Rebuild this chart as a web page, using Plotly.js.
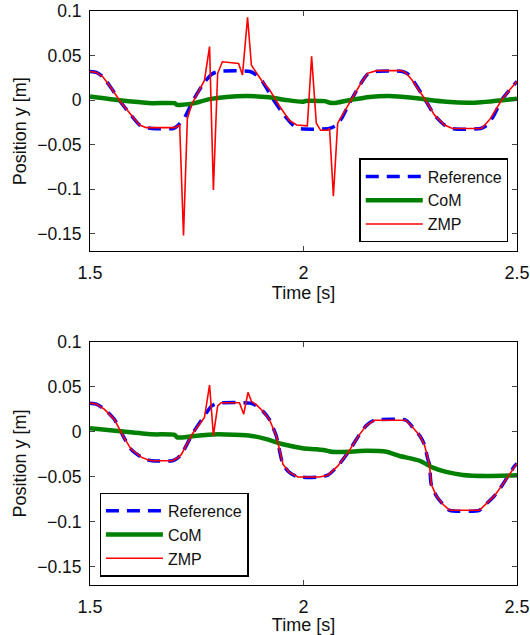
<!DOCTYPE html>
<html>
<head>
<meta charset="utf-8">
<script src="https://cdn.plot.ly/plotly-3.0.1.min.js"></script>
<style>
html,body{margin:0;padding:0;background:#fff;}
#chart{width:530px;height:635px;}
</style>
</head>
<body>
<div id="chart"></div>
<script>
// ---------- Top panel ----------
const refTopT = [1.50,1.515,1.53,1.546,1.573,1.596,1.616,1.632,1.645,1.695,1.705,1.72,1.742,1.768,1.785,1.80,1.875,1.89,1.905,1.93,1.955,1.975,1.99,2.06,2.075,2.09,2.108,2.131,2.15,2.168,2.232,2.245,2.258,2.283,2.307,2.33,2.348,2.415,2.43,2.445,2.464,2.482,2.50];
const refTopY = [0.032,0.031,0.026,0.016,-0.003,-0.017,-0.028,-0.031,-0.032,-0.032,-0.029,-0.021,0.000,0.020,0.029,0.032,0.032,0.028,0.020,0.000,-0.017,-0.028,-0.032,-0.032,-0.029,-0.020,-0.003,0.016,0.029,0.032,0.032,0.029,0.021,0.002,-0.017,-0.028,-0.032,-0.032,-0.028,-0.018,0.000,0.011,0.021];

const comTopT = [1.50,1.564,1.644,1.698,1.704,1.710,1.740,1.780,1.820,1.869,1.920,1.960,1.998,2.005,2.038,2.05,2.062,2.077,2.115,2.155,2.201,2.255,2.335,2.396,2.50];
const comTopY = [0.004,0.000,-0.0035,-0.0035,-0.0055,-0.0055,-0.004,0.001,0.0035,0.0045,0.003,0.000,-0.002,-0.001,-0.001,-0.0012,-0.003,-0.003,0.0005,0.0035,0.0045,0.0025,-0.002,-0.003,0.0015];

const zmpTopT = [1.50,1.515,1.53,1.546,1.573,1.596,1.616,1.632,1.645,1.698,1.710,1.719,1.728,1.738,1.768,1.780,1.789,1.799,1.810,1.848,1.857,1.869,1.878,1.902,1.920,1.944,1.967,1.984,2.009,2.019,2.030,2.040,2.056,2.061,2.070,2.080,2.108,2.131,2.150,2.171,2.230,2.241,2.255,2.283,2.307,2.330,2.349,2.417,2.436,2.464,2.482,2.50];
const zmpTopY = [0.032,0.031,0.026,0.016,-0.003,-0.017,-0.028,-0.031,-0.031,-0.031,-0.028,-0.152,-0.021,-0.005,0.022,0.060,-0.101,0.030,0.043,0.041,0.028,0.093,0.039,0.022,0.012,-0.007,-0.023,-0.028,-0.029,0.049,-0.026,-0.034,-0.034,-0.032,-0.108,-0.026,-0.003,0.016,0.030,0.033,0.033,0.030,0.022,0.002,-0.017,-0.028,-0.032,-0.032,-0.022,0.000,0.011,0.021];

// ---------- Bottom panel ----------
const refBotT = [1.50,1.515,1.534,1.557,1.577,1.596,1.620,1.635,1.645,1.693,1.705,1.714,1.740,1.768,1.785,1.80,1.875,1.89,1.905,1.920,1.936,1.940,1.952,1.967,1.987,2.037,2.057,2.080,2.104,2.131,2.147,2.166,2.240,2.256,2.272,2.283,2.291,2.295,2.299,2.311,2.326,2.342,2.412,2.428,2.447,2.467,2.494,2.50];
const refBotY = [0.032,0.031,0.025,0.014,-0.004,-0.019,-0.028,-0.031,-0.032,-0.032,-0.029,-0.025,-0.002,0.018,0.029,0.032,0.032,0.029,0.023,0.014,-0.004,-0.012,-0.036,-0.045,-0.050,-0.050,-0.048,-0.038,-0.023,-0.003,0.007,0.013,0.013,0.005,-0.004,-0.014,-0.030,-0.036,-0.058,-0.071,-0.080,-0.087,-0.087,-0.080,-0.071,-0.058,-0.038,-0.035];

const comBotT = [1.50,1.565,1.643,1.698,1.704,1.710,1.745,1.799,1.878,1.913,1.952,1.998,2.030,2.057,2.065,2.108,2.147,2.194,2.225,2.272,2.303,2.334,2.373,2.428,2.50];
const comBotY = [0.004,0.001,-0.0026,-0.0033,-0.0060,-0.0063,-0.0044,-0.0026,-0.0044,-0.008,-0.0137,-0.018,-0.0193,-0.021,-0.022,-0.0219,-0.021,-0.022,-0.0267,-0.032,-0.0397,-0.0444,-0.0478,-0.0489,-0.0482];

const zmpBotT = [1.50,1.515,1.534,1.557,1.577,1.596,1.620,1.635,1.645,1.693,1.705,1.714,1.740,1.768,1.780,1.789,1.799,1.807,1.850,1.860,1.870,1.878,1.890,1.905,1.920,1.936,1.940,1.952,1.967,1.987,2.037,2.057,2.080,2.104,2.131,2.147,2.166,2.240,2.256,2.272,2.283,2.291,2.295,2.299,2.311,2.326,2.342,2.412,2.428,2.447,2.467,2.494,2.50];
const zmpBotY = [0.032,0.031,0.025,0.014,-0.004,-0.019,-0.028,-0.031,-0.032,-0.032,-0.029,-0.025,-0.002,0.016,0.052,-0.004,0.029,0.0325,0.0325,0.0197,0.044,0.034,0.030,0.023,0.014,-0.004,-0.012,-0.036,-0.045,-0.050,-0.050,-0.048,-0.038,-0.023,-0.003,0.007,0.013,0.013,0.005,-0.004,-0.014,-0.030,-0.036,-0.058,-0.071,-0.080,-0.087,-0.087,-0.080,-0.071,-0.058,-0.038,-0.035];

const seriesNames = ['Reference','CoM','ZMP'];
const xTicks = [1.5, 2, 2.5];
const xTickText = ['1.5','2','2.5'];
const yTicks = [0.1, 0.05, 0, -0.05, -0.1, -0.15];
const yTickText = ['0.1','0.05','0','\u22120.05','\u22120.1','\u22120.15'];

const FONT = 'Liberation Sans, Arial, Helvetica, sans-serif';
const refLine = {color:'#0000ff', width:3.5, dash:'13px,8px', shape:'spline', smoothing:0.6};
const comLine = {color:'#008000', width:4.5, shape:'spline', smoothing:0.6};
const zmpLine = {color:'#ff0000', width:1.6};

const traces = [
  {x:refTopT, y:refTopY, name:seriesNames[0], mode:'lines', line:refLine, xaxis:'x', yaxis:'y', legend:'legend'},
  {x:comTopT, y:comTopY, name:seriesNames[1], mode:'lines', line:comLine, xaxis:'x', yaxis:'y', legend:'legend'},
  {x:zmpTopT, y:zmpTopY, name:seriesNames[2], mode:'lines', line:zmpLine, xaxis:'x', yaxis:'y', legend:'legend'},
  {x:refBotT, y:refBotY, name:seriesNames[0], mode:'lines', line:refLine, xaxis:'x2', yaxis:'y2', legend:'legend2'},
  {x:comBotT, y:comBotY, name:seriesNames[1], mode:'lines', line:comLine, xaxis:'x2', yaxis:'y2', legend:'legend2'},
  {x:zmpBotT, y:zmpBotY, name:seriesNames[2], mode:'lines', line:zmpLine, xaxis:'x2', yaxis:'y2', legend:'legend2'}
];

function xAxis(anchor){
  return {
    anchor:anchor, range:[1.5,2.5], tickvals:xTicks, ticktext:xTickText,
    ticks:'inside', ticklen:5, tickcolor:'#444', tickwidth:1,
    showline:true, linecolor:'#000', linewidth:1, mirror:'ticks',
    showgrid:false, zeroline:false, ticklabelstandoff:5, ticklabeloverflow:'allow',
    tickfont:{family:FONT, size:18, color:'#111'},
    title:{text:'Time [s]', font:{family:FONT, size:18, color:'#111'}, standoff:3}
  };
}
function yAxis(anchor, domain){
  return {
    anchor:anchor, domain:domain, range:[-0.17,0.1], tickvals:yTicks, ticktext:yTickText,
    ticks:'inside', ticklen:5, tickcolor:'#444', tickwidth:1,
    showline:true, linecolor:'#000', linewidth:1, mirror:'ticks',
    showgrid:false, zeroline:false, ticklabelstandoff:4, ticklabeloverflow:'allow',
    tickfont:{family:FONT, size:17.5, color:'#111'},
    title:{text:'Position y [m]', font:{family:FONT, size:18, color:'#111'}, standoff:5}
  };
}

const legendBase = {
  bgcolor:'#fff', bordercolor:'#000', borderwidth:1.3,
  font:{family:FONT, size:16, color:'#111'}, itemwidth:57, tracegroupgap:0
};

const layout = {
  width:530, height:635,
  margin:{l:90, r:13, t:11, b:50},
  paper_bgcolor:'#fff', plot_bgcolor:'#fff',
  showlegend:true,
  xaxis:xAxis('y'),
  yaxis:yAxis('x', [0.5812, 1]),
  xaxis2:xAxis('y2'),
  yaxis2:yAxis('x2', [0, 0.4235]),
  legend:Object.assign({}, legendBase, {x:0.98, xanchor:'right', y:0.5972, yanchor:'bottom'}),
  legend2:Object.assign({}, legendBase, {x:0.0225, xanchor:'left', y:0.0148, yanchor:'bottom'})
};

Plotly.newPlot('chart', traces, layout, {displayModeBar:false, staticPlot:true});
</script>
</body>
</html>
